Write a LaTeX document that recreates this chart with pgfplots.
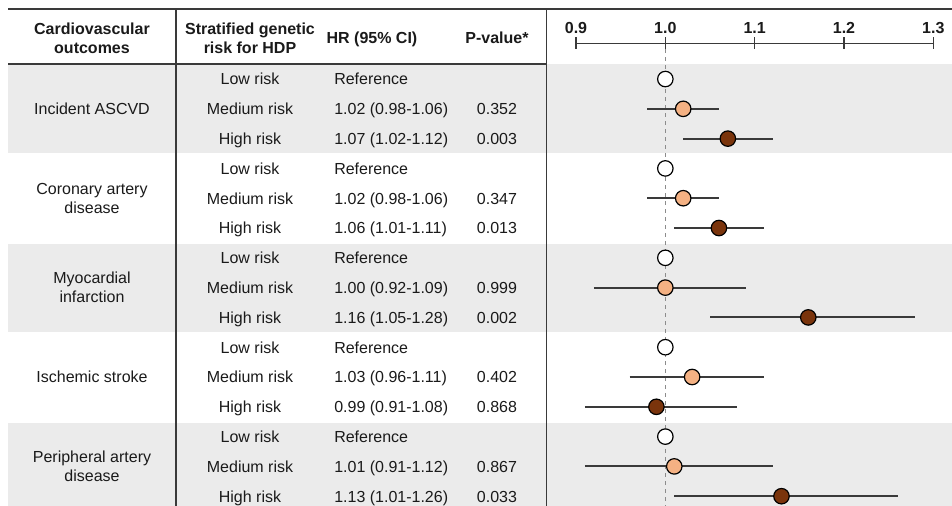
\documentclass[border=0pt]{standalone}
\usepackage{pgfplots}
\pgfplotsset{compat=1.18}
\usepackage{fontspec}
\setmainfont{Liberation Sans}
\definecolor{band}{HTML}{EBEBEB}
\definecolor{med}{HTML}{F4B183}
\definecolor{high}{HTML}{7A340C}
\definecolor{rule}{HTML}{3A3A3A}
\definecolor{txt}{HTML}{1A1A1A}
\newcommand{\tf}{\fontsize{12pt}{14pt}\selectfont}
\begin{document}
\begin{tikzpicture}
\begin{scope}[x=0.75pt,y=-0.75pt]
 \fill[band] (8,64) rectangle (952,152.7);
 \fill[band] (8,243.5) rectangle (952,331.5);
 \fill[band] (8,423) rectangle (952,506);
 \draw[rule, line width=1.5pt] (8,9.3) -- (952,9.3);
 \draw[rule, line width=1.0pt] (8,64) -- (546.7,64);
 \draw[rule, line width=1.0pt] (176,9.3) -- (176,506);
 \draw[rule, line width=1.0pt] (546.7,9.3) -- (546.7,506);
 % headers
 \begin{scope}[every node/.style={anchor=base, inner sep=0pt, text=txt, font=\tf\bfseries}]
  \node at (92,35) {Cardiovascular};
  \node at (92,54) {outcomes};
  \node at (250,35) {Stratified genetic};
  \node at (250,54) {risk for HDP};
  \node at (372,44) {HR (95\% CI)};
  \node at (497,44) {P-value*};
 \end{scope}
 \begin{scope}[every node/.style={anchor=base, inner sep=0pt, text=txt, font=\tf}]
  \node at (92,114.6) {Incident ASCVD};
  \node at (92,194.5) {Coronary artery};
  \node at (92,213.5) {disease};
  \node at (92,283.9) {Myocardial};
  \node at (92,302.9) {infarction};
  \node at (92,382.8) {Ischemic stroke};
  \node at (92,462.7) {Peripheral artery};
  \node at (92,481.7) {disease};
  \foreach \i/\s/\h/\p in {
   1/Low risk/Reference/, 2/Medium risk/1.02 (0.98-1.06)/0.352, 3/High risk/1.07 (1.02-1.12)/0.003,
   4/Low risk/Reference/, 5/Medium risk/1.02 (0.98-1.06)/0.347, 6/High risk/1.06 (1.01-1.11)/0.013,
   7/Low risk/Reference/, 8/Medium risk/1.00 (0.92-1.09)/0.999, 9/High risk/1.16 (1.05-1.28)/0.002,
   10/Low risk/Reference/, 11/Medium risk/1.03 (0.96-1.11)/0.402, 12/High risk/0.99 (0.91-1.08)/0.868,
   13/Low risk/Reference/, 14/Medium risk/1.01 (0.91-1.12)/0.867, 15/High risk/1.13 (1.01-1.26)/0.033}{
   \pgfmathsetmacro\yy{79+(\i-1)*29.8+5.8}
   \node at (250,\yy) {\s};
   \node[anchor=base west] at (334,\yy) {\h};
   \node at (497,\yy) {\p};
  }
 \end{scope}
\end{scope}
\begin{axis}[at={(432pt,-379.5pt)}, anchor=south west, scale only axis,
  width=268pt, height=347pt,
  xmin=0.9, xmax=1.3, ymin=-15.329, ymax=0.198, clip=false,
  axis x line*=top, axis y line=none,
  xtick={0.9,1.0,1.1,1.2,1.3}, xticklabels={0.9,1.0,1.1,1.2,1.3},
  tick align=center, major tick length=9pt,
  xticklabel style={font=\tf\bfseries, text=txt, yshift=-0.8pt},
  axis line style={rule, line width=1.1pt},
  every tick/.style={rule, line width=1.1pt},
  unbounded coords=jump]
 \addplot[color=black!45, line width=0.8pt, dash pattern=on 3pt off 3pt] coordinates {(1,0) (1,-15.329)};
 \addplot[rule, line width=1.5pt] coordinates {
  (0.98,-2) (1.06,-2) (nan,nan) (1.02,-3) (1.12,-3) (nan,nan)
  (0.98,-5) (1.06,-5) (nan,nan) (1.01,-6) (1.11,-6) (nan,nan)
  (0.92,-8) (1.09,-8) (nan,nan) (1.05,-9) (1.28,-9) (nan,nan)
  (0.96,-11) (1.11,-11) (nan,nan) (0.91,-12) (1.08,-12) (nan,nan)
  (0.91,-14) (1.12,-14) (nan,nan) (1.01,-15) (1.26,-15)};
 \addplot[only marks, mark=*, mark size=5.8pt, mark options={fill=white, draw=black, line width=0.9pt}]
  coordinates {(1,-1) (1,-4) (1,-7) (1,-10) (1,-13)};
 \addplot[only marks, mark=*, mark size=5.8pt, mark options={fill=med, draw=black, line width=0.9pt}]
  coordinates {(1.02,-2) (1.02,-5) (1.00,-8) (1.03,-11) (1.01,-14)};
 \addplot[only marks, mark=*, mark size=5.8pt, mark options={fill=high, draw=black, line width=0.9pt}]
  coordinates {(1.07,-3) (1.06,-6) (1.16,-9) (0.99,-12) (1.13,-15)};
\end{axis}
\pgfresetboundingbox
\path[use as bounding box] (0,0) rectangle (714pt,-379.5pt);
\end{tikzpicture}
\end{document}
